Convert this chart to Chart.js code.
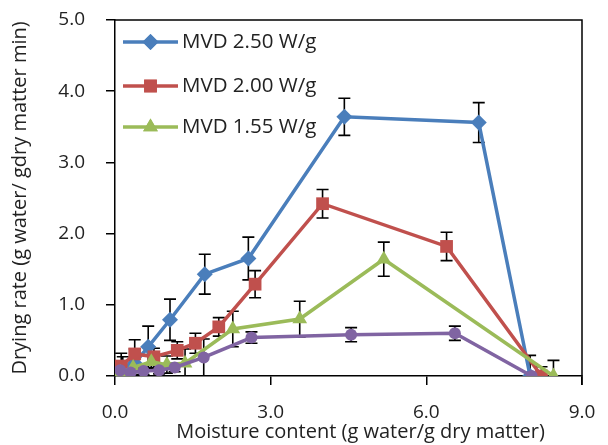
<!DOCTYPE html>
<html>
<head>
<meta charset="utf-8">
<script src="https://cdn.jsdelivr.net/npm/chart.js@4.4.1/dist/chart.umd.min.js"></script>
<style>
  html, body { margin: 0; padding: 0; background: #fff; }
  #wrap { width: 608px; height: 445px; }
</style>
</head>
<body>
<div id="wrap"><canvas id="c" width="608" height="445"></canvas></div>
<script>
// Moisture content (x) / drying rate (y) / error values per series
const seriesNames = ['MVD 2.50 W/g', 'MVD 2.00 W/g', 'MVD 1.55 W/g', 'MVD 1.00 W/g'];

const x250 = [0.15, 0.38, 0.64, 1.06, 1.73, 2.57, 4.42, 7.01, 8.0];
const y250 = [0.12, 0.18, 0.41, 0.79, 1.43, 1.65, 3.64, 3.56, 0.0];
const e250 = [0.15, 0.2, 0.29, 0.29, 0.28, 0.3, 0.26, 0.28, 0.29];

const x200 = [0.12, 0.38, 0.75, 1.2, 1.55, 2.0, 2.7, 4.0, 6.39, 8.22];
const y200 = [0.14, 0.31, 0.27, 0.36, 0.46, 0.69, 1.29, 2.42, 1.82, 0.0];
const e200 = [0.18, 0.2, 0.12, 0.12, 0.14, 0.13, 0.19, 0.2, 0.2, 0.13];

const x155 = [0.1, 0.35, 0.7, 1.0, 1.35, 2.27, 3.56, 5.18, 8.45];
const y155 = [0.05, 0.12, 0.2, 0.16, 0.18, 0.66, 0.8, 1.64, 0.0];
const e155 = [0.05, 0.1, 0.1, 0.12, 0.2, 0.25, 0.25, 0.24, 0.22];

const x100 = [0.1, 0.3, 0.55, 0.85, 1.15, 1.71, 2.63, 4.55, 6.55, 8.03];
const y100 = [0.08, 0.05, 0.07, 0.08, 0.12, 0.26, 0.54, 0.58, 0.6, 0.0];
const e100 = [0.04, 0.04, 0.05, 0.05, 0.06, 0.26, 0.08, 0.1, 0.1, 0.05];

const xTicks = [0, 3, 6, 9];
const yTicks = [0, 1, 2, 3, 4, 5];

const xTitle = 'Moisture content (g water/g dry matter)';
const yTitle = 'Drying rate (g water/ gdry matter min)';

const FONT = "'Open Sans', 'Noto Sans', sans-serif";

function pts(xs, ys, es) {
  return xs.map((x, i) => ({ x: x, y: ys[i], err: es[i] }));
}

function ds(label, data, color, style, radius, order) {
  return {
    label: label,
    data: data,
    showLine: true,
    borderColor: color,
    backgroundColor: color,
    borderWidth: 3.5,
    pointStyle: style,
    pointRadius: radius,
    pointBorderWidth: 0,
    pointBackgroundColor: color,
    order: order
  };
}

// error bars drawn under the series
const errorBars = {
  id: 'errorBars',
  beforeDatasetsDraw(chart) {
    const { ctx, scales: { x, y } } = chart;
    ctx.save();
    ctx.strokeStyle = '#000';
    ctx.lineWidth = 1.6;
    chart.data.datasets.forEach(d => {
      d.data.forEach(p => {
        if (!p.err) return;
        const px = x.getPixelForValue(p.x);
        const top = y.getPixelForValue(p.y + p.err);
        const bot = y.getPixelForValue(Math.max(p.y - p.err, y.min));
        ctx.beginPath();
        ctx.moveTo(px, top); ctx.lineTo(px, bot);
        ctx.moveTo(px - 6, top); ctx.lineTo(px + 6, top);
        if (p.y - p.err > y.min) { ctx.moveTo(px - 6, bot); ctx.lineTo(px + 6, bot); }
        ctx.stroke();
      });
    });
    ctx.restore();
  }
};

// top and right frame, x title, legend inside the plot
const frameLegend = {
  id: 'frameLegend',
  afterDraw(chart) {
    const { ctx, chartArea: a } = chart;
    ctx.save();
    ctx.strokeStyle = '#000';
    ctx.lineWidth = 1.5;
    ctx.beginPath();
    ctx.moveTo(a.left, a.top); ctx.lineTo(a.right, a.top); ctx.lineTo(a.right, a.bottom + 9);
    ctx.stroke();

    // x title sits a little right of the plot centre in the original
    ctx.fillStyle = '#222';
    ctx.font = '20px ' + FONT;
    ctx.textAlign = 'center';
    ctx.textBaseline = 'middle';
    ctx.fillText(xTitle, (a.left + a.right) / 2 + 12, 432);

    const rows = [42, 86, 127];
    chart.data.datasets.slice(0, 3).forEach((d, i) => {
      const yy = rows[i];
      ctx.strokeStyle = d.borderColor;
      ctx.lineWidth = 3.5;
      ctx.beginPath();
      ctx.moveTo(a.left + 8, yy); ctx.lineTo(a.left + 63, yy);
      ctx.stroke();
      ctx.fillStyle = d.backgroundColor;
      Chart.helpers.drawPoint(ctx, { pointStyle: d.pointStyle, radius: d.pointRadius, borderWidth: 0 }, a.left + 35.5, yy);
      ctx.fill();
      ctx.fillStyle = '#222';
      ctx.font = '20.5px ' + FONT;
      ctx.textBaseline = 'middle';
      ctx.textAlign = 'left';
      ctx.fillText(d.label, a.left + 67, yy);
    });
    ctx.restore();
  }
};

new Chart(document.getElementById('c').getContext('2d'), {
  type: 'scatter',
  data: {
    datasets: [
      ds(seriesNames[0], pts(x250, y250, e250), '#4A7EBB', 'rectRot', 8, 4),
      ds(seriesNames[1], pts(x200, y200, e200), '#C0504D', 'rect', 9, 3),
      ds(seriesNames[2], pts(x155, y155, e155), '#9BBB59', 'triangle', 8.5, 2),
      ds(seriesNames[3], pts(x100, y100, e100), '#8064A2', 'circle', 6, 1)
    ]
  },
  options: {
    responsive: false,
    animation: false,
    layout: { padding: { top: 20, right: 26, left: 0, bottom: 0 } },
    scales: {
      x: {
        type: 'linear',
        min: 0,
        max: 9,
        afterFit: (s) => { s.height = 69; s.paddingLeft = 0; s.paddingRight = 0; },
        afterBuildTicks: (s) => { s.ticks = xTicks.map(v => ({ value: v })); },
        grid: { drawOnChartArea: false, color: '#000', lineWidth: 1.5, tickLength: 9 },
        border: { color: '#000', width: 1.5 },
        ticks: {
          padding: 16,
          color: '#222',
          font: { family: FONT, size: 19 },
          callback: (v) => v.toFixed(1)
        },
        title: { display: false }
      },
      y: {
        type: 'linear',
        min: 0,
        max: 5,
        afterFit: (s) => { s.width = 115; s.paddingTop = 0; s.paddingBottom = 0; },
        afterBuildTicks: (s) => { s.ticks = yTicks.map(v => ({ value: v })); },
        grid: { drawOnChartArea: false, color: '#000', lineWidth: 1.5, tickLength: 9 },
        border: { color: '#000', width: 1.5 },
        ticks: {
          padding: 21,
          color: '#222',
          font: { family: FONT, size: 19 },
          callback: (v) => v.toFixed(1)
        },
        title: {
          display: true,
          text: yTitle,
          color: '#222',
          font: { family: FONT, size: 20 },
          padding: { top: 8, bottom: 0 }
        }
      }
    },
    plugins: {
      legend: { display: false },
      tooltip: { enabled: false }
    }
  },
  plugins: [errorBars, frameLegend]
});
</script>
</body>
</html>
